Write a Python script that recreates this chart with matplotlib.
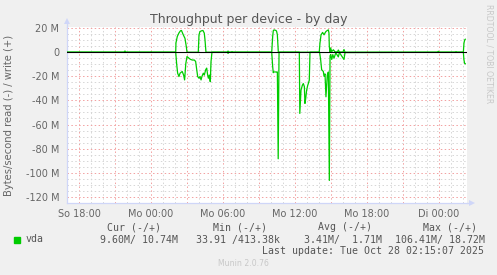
import matplotlib
matplotlib.use('Agg')
import matplotlib.pyplot as plt
from matplotlib.lines import Line2D
import numpy as np

# ---------------- data (hours since So 17:00, values in MB/s) ----------------
write_t = [0.0, 4.75, 4.83, 4.92, 6.95, 7.0, 7.05,
           9.06, 9.08, 9.19, 9.33, 9.46, 9.54, 9.69, 9.83, 9.94, 10.0,
           10.94, 11.0, 11.08, 11.2, 11.33, 11.44, 11.5, 11.58,
           13.38, 13.42, 13.47, 13.72, 13.75, 13.8,
           17.06, 17.14, 17.19, 17.25, 17.42, 17.47, 17.53, 17.61,
           21.02, 21.08, 21.17, 21.3, 21.42, 21.5, 21.58, 21.69, 21.78, 21.83, 21.86, 21.92,
           21.97, 22.06, 22.2, 22.33, 22.55, 22.61, 22.7, 23.0, 23.08, 23.17,
           30.9, 30.94, 30.98, 32.38, 32.42, 32.46,
           33.03, 33.08, 33.14, 33.19]
write_v = [0.0, 0.0, 1.0, 0.0, 0.0, 0.3, 0.0,
           0.0, 7.7, 13.0, 16.0, 17.8, 18.0, 14.4, 11.5, 4.8, 0.0,
           0.0, 14.4, 17.1, 17.7, 18.0, 15.8, 10.2, 0.0,
           0.0, 1.0, 0.0, 0.0, 0.5, 0.0,
           0.0, 13.0, 17.8, 18.5, 18.0, 17.2, 14.4, 0.0,
           0.0, 7.5, 14.4, 16.4, 14.4, 15.9, 17.2, 18.0, 18.5, 15.9, 4.7, 0.0,
           3.5, 0.5, 2.0, 0.3, 0.3, 1.8, 0.2, 0.2, 2.2, 0.0,
           0.0, 0.8, 0.0, 0.0, 0.5, 0.0,
           0.0, 7.5, 10.2, 10.74]

read_t = [0.0,
          9.06, 9.14, 9.22, 9.33, 9.42, 9.6, 9.72, 9.8, 9.9, 10.0, 10.17, 10.28,
          10.44, 10.61, 10.72, 10.81, 10.89, 11.0, 11.08, 11.17, 11.25, 11.36, 11.44,
          11.56, 11.64, 11.72, 11.78, 11.86, 11.94, 12.0, 12.08,
          13.38, 13.42, 13.47,
          17.06, 17.14, 17.19, 17.22, 17.47, 17.53, 17.6, 17.67,
          19.36, 19.4, 19.5, 19.61, 19.69, 19.78, 19.83, 19.89, 19.97, 20.06, 20.11, 20.19, 20.25,
          21.05, 21.14, 21.22, 21.36, 21.42, 21.5, 21.58, 21.69, 21.78, 21.86, 21.92,
          21.97, 22.06, 22.15, 22.25, 22.4, 22.61, 22.7, 23.08, 23.17,
          33.03, 33.08, 33.14, 33.19]
read_v = [0.0,
          0.0, 10.0, 17.4, 20.2, 17.4, 16.0, 19.0, 23.0, 9.4, 3.6, 5.0, 5.9,
          6.5, 6.5, 7.7, 14.5, 20.2, 21.6, 20.2, 23.0, 20.0, 17.4, 19.0,
          14.5, 13.2, 18.8, 21.6, 19.0, 24.5, 8.0, 0.0,
          0.0, 1.0, 0.0,
          0.0, 12.0, 17.0, 16.4, 16.4, 16.4, 88.4, 0.0,
          0.0, 50.8, 31.5, 27.5, 26.0, 28.5, 42.5, 38.5, 31.5, 27.5, 26.0, 23.2, 0.0,
          0.0, 6.5, 14.5, 16.0, 20.0, 18.0, 37.0, 19.0, 16.4, 106.4, 3.0,
          2.0, 6.0, 2.0, 5.0, 0.5, 3.9, 0.3, 6.0, 0.3,
          0.0, 6.5, 9.4, 9.6]

x_tick_pos = [1, 4, 7, 10, 13, 16, 19, 22, 25, 28, 31]
x_tick_labels = ['So 18:00', '', 'Mo 00:00', '', 'Mo 06:00', '', 'Mo 12:00', '',
                 'Mo 18:00', '', 'Di 00:00']
y_tick_pos = [20, 0, -20, -40, -60, -80, -100, -120]
y_tick_labels = ['20 M', '0', '-20 M', '-40 M', '-60 M', '-80 M', '-100 M', '-120 M']

legend_name = 'vda'
legend_headers = ['Cur (-/+)', 'Min (-/+)', 'Avg (-/+)', 'Max (-/+)']
legend_values = ['9.60M/ 10.74M', '33.91 /413.38k', '3.41M/  1.71M', '106.41M/ 18.72M']
last_update = 'Last update: Tue Oct 28 02:15:07 2025'

# ---------------- figure ----------------
W, H = 497, 275
fig = plt.figure(figsize=(W / 100, H / 100), dpi=100, facecolor='#F0F0F0')


def fx(px):
    return px / W


def fy(py):
    return 1 - py / H


L, R, T, B = 67, 467, 27, 203
ax = fig.add_axes([fx(L), fy(B), fx(R) - fx(L), fy(T) - fy(B)])
ax.set_facecolor('white')
ax.set_xlim(0, 400 / 12)
ax.set_ylim(-125.1, 20.9)

FONT = '#666666'
ax.set_xticks(x_tick_pos)
ax.set_xticklabels(x_tick_labels)
ax.set_xticks(np.arange(0, 34, 1), minor=True)
ax.set_yticks(y_tick_pos)
ax.set_yticklabels(y_tick_labels)
ax.set_yticks(np.arange(-125, 21, 5), minor=True)
ax.tick_params(which='both', length=0, colors=FONT, labelsize=7)
ax.tick_params(axis='y', pad=5.5)
ax.tick_params(axis='x', pad=4)

ax.grid(which='minor', color='#D6D6D6', linestyle=(0, (1.5, 2.5)), linewidth=0.7)
ax.grid(which='major', color='#F2A0A0', linestyle=(0, (1.5, 2.5)), linewidth=0.7)
ax.set_axisbelow(True)

for s in ['top', 'right']:
    ax.spines[s].set_visible(False)
for s in ['left', 'bottom']:
    ax.spines[s].set_color('#CFD6F8')
    ax.spines[s].set_linewidth(0.9)

ax.plot(write_t, write_v, color='#00CC00', lw=0.9, zorder=3)
ax.plot(read_t, [-v for v in read_v], color='#00CC00', lw=0.9, zorder=3)
ax.axhline(0, color='black', lw=0.8, zorder=5)

# axis arrows
fig.add_artist(Line2D([fx(R), fx(471)], [fy(B), fy(B)], color='#CFD6F8', lw=0.9))
fig.add_artist(Line2D([fx(L), fx(L)], [fy(T), fy(22)], color='#CFD6F8', lw=0.9))
fig.add_artist(Line2D([fx(472)], [fy(B)], marker='>', markersize=4.5, color='#CFD6F8',
                      markeredgewidth=0))
fig.add_artist(Line2D([fx(L)], [fy(21)], marker='^', markersize=4.5, color='#CFD6F8',
                      markeredgewidth=0))

# texts
fig.text(fx(248.5), fy(19), 'Throughput per device - by day', ha='center', va='center',
         fontsize=9, color='#555555')
fig.text(fx(9.5), fy(115), 'Bytes/second read (-) / write (+)', rotation=90,
         ha='center', va='center', fontsize=7.2, color=FONT)
fig.text(fx(489), fy(54), 'RRDTOOL / TOBI OETIKER', rotation=-90, ha='center', va='center',
         fontsize=5.6, color='#C8C8C8')
fig.text(fx(243), fy(264), 'Munin 2.0.76', ha='center', va='center', fontsize=5.6,
         color='#C8C8C8')

MONO = 'DejaVu Sans Mono'
LC = '#555555'
head_x = [107, 213, 318, 423]
val_x = [100, 196, 304, 395]
for x, t in zip(head_x, legend_headers):
    fig.text(fx(x), fy(227.5), t, ha='left', va='center', family=MONO, fontsize=7.1, color=LC)
fig.add_artist(plt.Rectangle((fx(14), fy(242.5)), fx(6), fy(236.5) - fy(242.5),
                             color='#00CC00', transform=fig.transFigure))
fig.text(fx(26), fy(239.5), legend_name, ha='left', va='center', family=MONO, fontsize=7.1,
         color=LC)
for x, t in zip(val_x, legend_values):
    fig.text(fx(x), fy(239.5), t, ha='left', va='center', family=MONO, fontsize=7.1, color=LC)
fig.text(fx(262), fy(251.5), last_update, ha='left', va='center', family=MONO, fontsize=7.1,
         color=LC)

fig.savefig('out.png', dpi=100, facecolor=fig.get_facecolor())
